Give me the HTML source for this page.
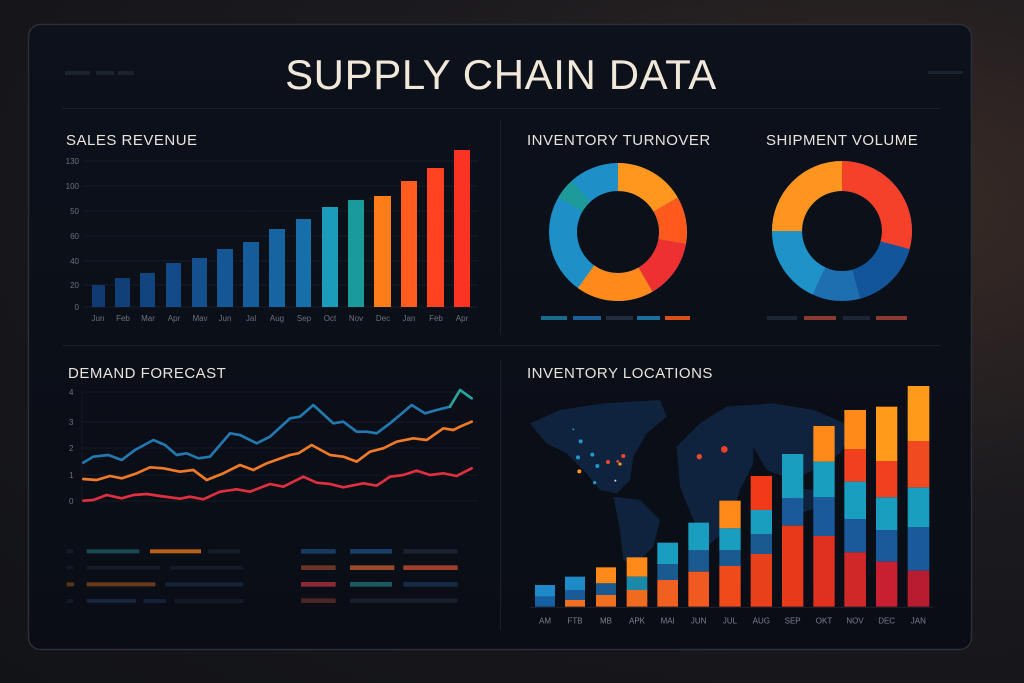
<!DOCTYPE html>
<html><head><meta charset="utf-8"><style>
html,body{margin:0;padding:0;}
body{width:1024px;height:683px;overflow:hidden;background:radial-gradient(ellipse at 85% 30%,#3a2b26 0%,#1b1a1e 45%,#121317 100%);font-family:"Liberation Sans",sans-serif;}
svg{position:absolute;left:0;top:0}
</style></head><body>
<svg width="1024" height="683" viewBox="0 0 1024 683">
<defs>
<linearGradient id="pg" x1="0" y1="0" x2="0" y2="1"><stop offset="0" stop-color="#0c111b"/><stop offset="1" stop-color="#0a0d15"/></linearGradient>
</defs>
<rect x="28.5" y="24.5" width="943" height="625" rx="12" fill="url(#pg)" stroke="#2c2f37" stroke-width="1.5"/>
<text x="501" y="89" text-anchor="middle" font-size="42" fill="#f2e8da" letter-spacing="0.6">SUPPLY CHAIN DATA</text>
<g fill="#1a2230"><rect x="65" y="71" width="25" height="4"/><rect x="96" y="71" width="18" height="4"/><rect x="118" y="71" width="16" height="4"/><rect x="928" y="71" width="35" height="3"/></g>
<line x1="62" y1="108.5" x2="940" y2="108.5" stroke="#1c222d"/>
<line x1="500.5" y1="120" x2="500.5" y2="335" stroke="#1a1f28"/>
<line x1="62" y1="345.5" x2="940" y2="345.5" stroke="#1a1f28"/>
<line x1="500.5" y1="360" x2="500.5" y2="630" stroke="#1a1f28"/>

<!-- Sales revenue -->
<text x="66" y="145" font-size="15" fill="#e8e4dc" letter-spacing=".5">SALES REVENUE</text>
<g stroke="#161c28" stroke-width="1">
<line x1="85" y1="161" x2="478" y2="161"/><line x1="85" y1="186" x2="478" y2="186"/><line x1="85" y1="211" x2="478" y2="211"/><line x1="85" y1="236" x2="478" y2="236"/><line x1="85" y1="261" x2="478" y2="261"/><line x1="85" y1="285" x2="478" y2="285"/><line x1="85" y1="307" x2="478" y2="307"/></g>
<g font-size="8" fill="#6a7280" text-anchor="end">
<text x="79" y="164">130</text><text x="79" y="189">100</text><text x="79" y="214">50</text><text x="79" y="239">60</text><text x="79" y="264">40</text><text x="79" y="288">20</text><text x="79" y="310">0</text></g>
<g>
<rect x="92" y="285" width="13" height="22" fill="#0f3a72"/>
<rect x="115" y="278" width="15" height="29" fill="#114079"/>
<rect x="140" y="273" width="15" height="34" fill="#124580"/>
<rect x="166" y="263" width="15" height="44" fill="#134b88"/>
<rect x="192" y="258" width="15" height="49" fill="#14508e"/>
<rect x="217" y="249" width="16" height="58" fill="#155695"/>
<rect x="243" y="242" width="16" height="65" fill="#165c9a"/>
<rect x="269" y="229" width="16" height="78" fill="#1764a2"/>
<rect x="296" y="219" width="15" height="88" fill="#186ea8"/>
<rect x="322" y="207" width="16" height="100" fill="#1a9cba"/>
<rect x="348" y="200" width="16" height="107" fill="#1b9a9c"/>
<rect x="374" y="196" width="17" height="111" fill="#ff7d18"/>
<rect x="401" y="181" width="16" height="126" fill="#ff5c1e"/>
<rect x="427" y="168" width="17" height="139" fill="#ff4220"/>
<rect x="454" y="150" width="16" height="157" fill="#fa3322"/>
</g>
<g font-size="8" fill="#6a7280" text-anchor="middle">
<text x="98" y="321">Jun</text><text x="123" y="321">Feb</text><text x="148" y="321">Mar</text><text x="174" y="321">Apr</text><text x="200" y="321">Mav</text><text x="225" y="321">Jun</text><text x="251" y="321">Jal</text><text x="277" y="321">Aug</text><text x="304" y="321">Sep</text><text x="330" y="321">Oct</text><text x="356" y="321">Nov</text><text x="383" y="321">Dec</text><text x="409" y="321">Jan</text><text x="436" y="321">Feb</text><text x="462" y="321">Apr</text></g>

<!-- Donuts -->
<text x="527" y="145" font-size="15" fill="#e8e4dc" letter-spacing=".5">INVENTORY TURNOVER</text>
<text x="766" y="145" font-size="15" fill="#e8e4dc" letter-spacing=".5">SHIPMENT VOLUME</text>
<g transform="translate(618,232)" fill="none" stroke-width="28">
<circle r="55" stroke="#1f8fc8"/>
<path d="M0,-55 A55,55 0 0 1 47.6,-27.5" stroke="#ff961e"/>
<path d="M47.6,-27.5 A55,55 0 0 1 54.2,9.5" stroke="#ff5a1c"/>
<path d="M54.2,9.5 A55,55 0 0 1 27.5,47.6" stroke="#ee3030"/>
<path d="M27.5,47.6 A55,55 0 0 1 -32,44.7" stroke="#ff8a1c"/>
<path d="M-47.6,-27.5 A55,55 0 0 1 -37,-40.7" stroke="#1d9a9a"/>
</g>
<g transform="translate(842,231)" fill="none" stroke-width="30">
<circle r="55" stroke="#1e6fb0"/>
<path d="M0,-55 A55,55 0 0 1 53.1,14.2" stroke="#f5402a"/>
<path d="M53.1,14.2 A55,55 0 0 1 14.2,53.1" stroke="#13559a"/>
<path d="M-23.2,49.9 A55,55 0 0 1 -55,0" stroke="#1f92c8"/>
<path d="M-55,0 A55,55 0 0 1 0,-55" stroke="#ff951e"/>
</g>
<g>
<rect x="541" y="316" width="26" height="4" fill="#1a6a8e"/><rect x="573" y="316" width="28" height="4" fill="#1b5f96"/><rect x="606" y="316" width="27" height="4" fill="#232c3c"/><rect x="637" y="316" width="23" height="4" fill="#1b6f9c"/><rect x="665" y="316" width="25" height="4" fill="#d8501c"/>
<rect x="767" y="316" width="30" height="4" fill="#1e2636"/><rect x="804" y="316" width="32" height="4" fill="#8a3a30"/><rect x="843" y="316" width="27" height="4" fill="#1e2636"/><rect x="876" y="316" width="31" height="4" fill="#8a3a30"/>
</g>

<!-- Demand forecast -->
<text x="68" y="378" font-size="15" fill="#e8e4dc" letter-spacing=".5">DEMAND FORECAST</text>
<g stroke="#141a24"><line x1="82" y1="392" x2="478" y2="392"/><line x1="82" y1="422" x2="478" y2="422"/><line x1="82" y1="448" x2="478" y2="448"/><line x1="82" y1="475" x2="478" y2="475"/><line x1="82" y1="501" x2="478" y2="501"/><line x1="82" y1="392" x2="82" y2="501"/></g>
<g font-size="8" fill="#6a7280"><text x="69" y="395">4</text><text x="69" y="425">3</text><text x="69" y="451">2</text><text x="69" y="478">1</text><text x="69" y="504">0</text></g>
<g transform="translate(50,360) scale(0.33333)" fill="none" stroke-width="8" stroke-linejoin="round" stroke-linecap="round">
<polyline stroke="#2378b0" points="100,308 130,290 175,285 215,300 255,270 310,240 345,255 380,285 410,280 445,295 480,290 540,220 570,225 620,250 660,230 720,175 750,170 790,135 850,190 880,185 920,215 950,215 980,220 1020,190 1050,165 1085,135 1125,160 1160,150 1200,140"/>
<polyline stroke="#2aa3a0" points="1200,140 1230,90 1265,115"/>
<polyline stroke="#f07a28" points="100,357 140,360 180,348 215,355 260,340 300,322 340,325 390,335 430,330 470,360 520,340 570,315 610,330 650,310 720,285 745,280 785,255 840,285 880,290 920,305 960,275 1000,265 1040,245 1090,235 1130,240 1180,205 1210,210 1230,200 1265,185"/>
<polyline stroke="#e03040" points="100,422 130,420 170,405 215,415 250,405 290,402 330,408 390,416 420,410 460,418 510,395 560,388 600,395 660,372 700,380 760,350 800,368 840,372 880,382 940,370 980,377 1020,350 1060,345 1100,332 1140,345 1180,340 1220,348 1265,325"/>
<g stroke="none">
<rect x="50" y="568" width="20" height="12" fill="#141c28"/><rect x="110" y="568" width="158" height="12" fill="#1a4a56"/><rect x="300" y="568" width="153" height="12" fill="#b8601c"/><rect x="475" y="568" width="95" height="12" fill="#161d2a"/>
<rect x="50" y="617" width="20" height="12" fill="#121a24"/><rect x="110" y="617" width="220" height="12" fill="#141b26"/><rect x="362" y="617" width="218" height="12" fill="#141b26"/>
<rect x="50" y="667" width="22" height="12" fill="#5a3418"/><rect x="110" y="667" width="206" height="12" fill="#6a3a1a"/><rect x="345" y="667" width="235" height="12" fill="#142236"/>
<rect x="50" y="717" width="20" height="12" fill="#121a26"/><rect x="110" y="717" width="148" height="12" fill="#14243c"/><rect x="280" y="717" width="68" height="12" fill="#14203a"/><rect x="373" y="717" width="207" height="12" fill="#141b26"/>
<rect x="753" y="567" width="104" height="14" fill="#173a60"/><rect x="900" y="567" width="126" height="14" fill="#173e66"/><rect x="1060" y="567" width="163" height="14" fill="#1a2130"/>
<rect x="753" y="616" width="104" height="14" fill="#6a3526"/><rect x="900" y="616" width="133" height="14" fill="#9a4a28"/><rect x="1060" y="616" width="163" height="14" fill="#a0402a"/>
<rect x="753" y="666" width="104" height="14" fill="#8a2a34"/><rect x="900" y="666" width="126" height="14" fill="#1a5a60"/><rect x="1060" y="666" width="163" height="14" fill="#142a46"/>
<rect x="753" y="715" width="104" height="14" fill="#4a2622"/><rect x="900" y="715" width="323" height="14" fill="#181e2a"/>
</g></g>

<!-- Inventory locations -->
<text x="527" y="378" font-size="15" fill="#e8e4dc" letter-spacing=".5">INVENTORY LOCATIONS</text>
<g transform="translate(520,380) scale(0.33333)">
<g fill="#10233e">
<path d="M30,130 L120,90 L250,70 L420,60 L440,110 L380,160 L340,230 L330,300 L290,340 L240,330 L200,280 L140,220 L80,190 Z"/>
<path d="M280,350 L360,360 L420,420 L400,500 L340,560 L310,540 L300,450 Z"/>
<path d="M470,200 L540,130 L620,120 L700,140 L700,250 L660,330 L620,450 L560,500 L520,420 L480,320 Z"/>
<path d="M540,130 L620,80 L760,70 L880,90 L1000,140 L960,220 L900,260 L820,300 L740,270 L700,200 Z"/>
<path d="M800,320 L880,330 L900,380 L840,400 L800,370 Z"/>
</g>
<g><circle cx="160" cy="148" r="3" fill="#1e8ac8"/><circle cx="182" cy="184" r="6" fill="#1e9ac8"/><circle cx="174" cy="232" r="6" fill="#1e9ac8"/><circle cx="217" cy="224" r="6" fill="#1e9ac8"/><circle cx="232" cy="258" r="6" fill="#1e9ac8"/><circle cx="178" cy="274" r="6" fill="#ff961e"/><circle cx="264" cy="246" r="6" fill="#f04a2a"/><circle cx="293" cy="244" r="4" fill="#f04a2a"/><circle cx="300" cy="252" r="5" fill="#ff961e"/><circle cx="310" cy="228" r="6" fill="#f04a2a"/><circle cx="224" cy="308" r="5" fill="#1e9ac8"/><circle cx="286" cy="302" r="3" fill="#cfd8e0"/><circle cx="538" cy="230" r="8" fill="#f04a2a"/><circle cx="613" cy="208" r="10" fill="#f0402a"/></g>
<g>
<rect x="45" y="615" width="60" height="35" fill="#1e88c8"/><rect x="45" y="650" width="60" height="30" fill="#1560a0"/>
<rect x="135" y="590" width="60" height="40" fill="#1e8ac8"/><rect x="135" y="630" width="60" height="30" fill="#1a5a96"/><rect x="135" y="660" width="60" height="20" fill="#f07020"/>
<rect x="228" y="562" width="60" height="48" fill="#ff8a1a"/><rect x="228" y="610" width="60" height="35" fill="#1a5a90"/><rect x="228" y="645" width="60" height="35" fill="#f07020"/>
<rect x="320" y="532" width="62" height="58" fill="#ff8a1a"/><rect x="320" y="590" width="62" height="40" fill="#1a8aa8"/><rect x="320" y="630" width="62" height="50" fill="#f06a20"/>
<rect x="412" y="488" width="62" height="64" fill="#1a9ec0"/><rect x="412" y="552" width="62" height="48" fill="#1a5a90"/><rect x="412" y="600" width="62" height="80" fill="#f06020"/>
<rect x="505" y="428" width="62" height="82" fill="#1a9ec0"/><rect x="505" y="510" width="62" height="65" fill="#1a5a90"/><rect x="505" y="575" width="62" height="105" fill="#f05a20"/>
<rect x="598" y="362" width="64" height="83" fill="#ff8a1a"/><rect x="598" y="445" width="64" height="65" fill="#1a9ec0"/><rect x="598" y="510" width="64" height="48" fill="#1a5a90"/><rect x="598" y="558" width="64" height="122" fill="#f04a1a"/>
<rect x="692" y="288" width="64" height="102" fill="#f03a1a"/><rect x="692" y="390" width="64" height="72" fill="#1a9ec0"/><rect x="692" y="462" width="64" height="60" fill="#1a5a90"/><rect x="692" y="522" width="64" height="158" fill="#e8401a"/>
<rect x="786" y="222" width="64" height="133" fill="#1a9ec0"/><rect x="786" y="355" width="64" height="82" fill="#1a5a9a"/><rect x="786" y="437" width="64" height="243" fill="#e83a1a"/>
<rect x="880" y="138" width="64" height="107" fill="#ff8a1a"/><rect x="880" y="245" width="64" height="107" fill="#1a9ec0"/><rect x="880" y="352" width="64" height="116" fill="#1a5a9a"/><rect x="880" y="468" width="64" height="212" fill="#e03020"/>
<rect x="973" y="90" width="65" height="118" fill="#ff8a1a"/><rect x="973" y="208" width="65" height="97" fill="#f04020"/><rect x="973" y="305" width="65" height="112" fill="#1a9ec0"/><rect x="973" y="417" width="65" height="100" fill="#1a5a9a"/><rect x="973" y="517" width="65" height="163" fill="#d02828"/>
<rect x="1068" y="80" width="64" height="163" fill="#ff9a1a"/><rect x="1068" y="243" width="64" height="109" fill="#f04020"/><rect x="1068" y="352" width="64" height="98" fill="#1a9ec0"/><rect x="1068" y="450" width="64" height="95" fill="#1a5a9a"/><rect x="1068" y="545" width="64" height="135" fill="#c82030"/>
<rect x="1163" y="18" width="65" height="165" fill="#ff9a1a"/><rect x="1163" y="183" width="65" height="140" fill="#f04a20"/><rect x="1163" y="323" width="65" height="119" fill="#1a9ec0"/><rect x="1163" y="442" width="65" height="130" fill="#1a5a9a"/><rect x="1163" y="572" width="65" height="108" fill="#b81c30"/>
</g>
<line x1="30" y1="682" x2="1240" y2="682" stroke="#1a2030" stroke-width="3"/>
<g font-size="24" fill="#7a808c" text-anchor="middle">
<text x="75" y="730">AM</text><text x="165" y="730">FTB</text><text x="258" y="730">MB</text><text x="351" y="730">APK</text><text x="443" y="730">MAI</text><text x="536" y="730">JUN</text><text x="630" y="730">JUL</text><text x="724" y="730">AUG</text><text x="818" y="730">SEP</text><text x="912" y="730">OKT</text><text x="1005" y="730">NOV</text><text x="1100" y="730">DEC</text><text x="1195" y="730">JAN</text></g>
</g>
</svg>
</body></html>
